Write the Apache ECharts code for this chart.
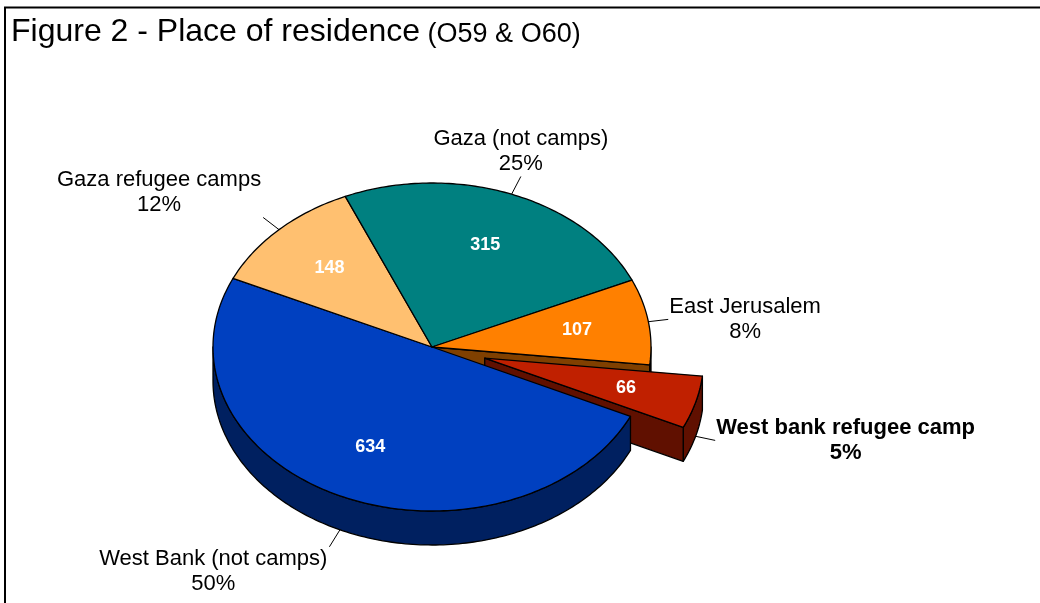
<!DOCTYPE html>
<html>
<head>
<meta charset="utf-8">
<script src="https://cdn.jsdelivr.net/npm/echarts@6/dist/echarts.min.js"></script>
<style>
  html, body { margin: 0; padding: 0; background: #ffffff; }
  #main { width: 1040px; height: 603px; }
</style>
</head>
<body>
<div id="main"></div>
<script>
// Place of residence (O59 & O60): respondents per category, in clockwise drawing order
const categories = ['West Bank (not camps)', 'Gaza refugee camps', 'Gaza (not camps)', 'East Jerusalem', 'West bank refugee camp'];
const counts = [634, 148, 315, 107, 66];
const explodedCategory = 'West bank refugee camp';
const topColors = ['#0040C0', '#FFC070', '#008080', '#FF8000', '#C02000'];
const sideColors = ['#002060', '#806038', '#004040', '#804000', '#601000'];
const titleMain = 'Figure 2 - Place of residence';
const titleSub = '(O59 & O60)';

const FONT = '"Liberation Sans", Arial, Helvetica, sans-serif';
// Layout of the tilted pie: ellipse centre and radii, thickness, start angle (deg clockwise from 12 o'clock)
const geo = { cx: 432, cy: 347, rx: 219, ry: 164, depth: 34, startAngle: 115, explode: 0.25, labelR: 0.67, leader: 20 };

const total = counts.reduce((a, b) => a + b, 0);
const slices = [];
let acc = geo.startAngle;
counts.forEach(v => {
  const span = v / total * 360;
  slices.push({ a: acc, b: acc + span, mid: acc + span / 2 });
  acc += span;
});

const rad = d => d * Math.PI / 180;
function rim(t, ox, oy, r, dz) {
  return [geo.cx + ox + r * geo.rx * Math.sin(rad(t)), geo.cy + oy - r * geo.ry * Math.cos(rad(t)) + dz];
}
function arc(a, b, ox, oy, dz) {
  const pts = [];
  const n = Math.max(2, Math.ceil(b - a));
  for (let k = 0; k <= n; k++) pts.push(rim(a + (b - a) * k / n, ox, oy, 1, dz));
  return pts;
}

const measureCtx = document.createElement('canvas').getContext('2d');
function textWidth(s, font) { measureCtx.font = font; return measureCtx.measureText(s).width; }

const OUTLINE = { stroke: '#000000', lineWidth: 1.3, lineJoin: 'round' };

function renderItem(params, api) {
  const i = params.dataIndex;
  const n = counts.length;
  const s = slices[i];
  const isExp = categories[i] === explodedCategory;
  const prevExp = categories[(i - 1 + n) % n] === explodedCategory;
  const nextExp = categories[(i + 1) % n] === explodedCategory;
  const e = isExp ? geo.explode : 0;
  const ox = e * geo.rx * Math.sin(rad(s.mid));
  const oy = -e * geo.ry * Math.cos(rad(s.mid));
  const apex = [geo.cx + ox, geo.cy + oy];
  const children = [];

  // walls are painted back to front, before every top face
  const facing = -Math.cos(rad(s.mid));
  const wallZ = 10 + Math.round((facing + 1) * 20);

  // curved outer wall on the half that faces the viewer
  [[90, 270], [450, 630]].forEach(([lo, hi]) => {
    const a = Math.max(s.a, lo), b = Math.min(s.b, hi);
    if (b > a) {
      const top = arc(a, b, ox, oy, 0);
      const bot = arc(a, b, ox, oy, geo.depth).reverse();
      children.push({ type: 'polygon', z2: wallZ, shape: { points: top.concat(bot) },
        style: Object.assign({ fill: sideColors[i] }, OUTLINE) });
    }
  });

  // radial cut faces, only visible next to the pulled-out slice
  function radialFace(t) {
    const r = rim(t, ox, oy, 1, 0);
    return { type: 'polygon', z2: wallZ + 1,
      shape: { points: [apex, r, [r[0], r[1] + geo.depth], [apex[0], apex[1] + geo.depth]] },
      style: Object.assign({ fill: sideColors[i] }, OUTLINE) };
  }
  if ((isExp || prevExp) && Math.sin(rad(s.a)) < 0) children.push(radialFace(s.a));
  if ((isExp || nextExp) && Math.sin(rad(s.b)) > 0) children.push(radialFace(s.b));

  // top face
  children.push({ type: 'polygon', z2: 100, shape: { points: [apex].concat(arc(s.a, s.b, ox, oy, 0)) },
    style: Object.assign({ fill: topColors[i] }, OUTLINE) });

  // value inside the slice
  const vp = rim(s.mid, ox, oy, geo.labelR, 0);
  children.push({ type: 'text', z2: 200, style: {
    text: String(api.value(0)), x: vp[0], y: vp[1], align: 'center', verticalAlign: 'middle',
    fill: '#ffffff', font: 'bold 18px ' + FONT } });

  // leader line and category label outside
  const front = Math.cos(rad(s.mid)) < 0;
  const p0 = rim(s.mid, ox, oy, 1, front ? geo.depth : 0);
  let dx = geo.rx * Math.sin(rad(s.mid)), dy = -geo.ry * Math.cos(rad(s.mid));
  const len = Math.hypot(dx, dy); dx /= len; dy /= len;
  const p1 = [p0[0] + geo.leader * dx, p0[1] + geo.leader * dy];
  children.push({ type: 'line', z2: 200, shape: { x1: p0[0], y1: p0[1], x2: p1[0], y2: p1[1] },
    style: { stroke: '#000000', lineWidth: 1 } });

  const pct = Math.round(api.value(0) / total * 100) + '%';
  const font = (isExp ? 'bold ' : '') + '22px ' + FONT;
  const w = Math.max(textWidth(categories[i], font), textWidth(pct, font));
  let lx = p1[0];
  if (dx > 0.5) lx = p1[0] + 1 + w / 2;
  else if (dx < -0.5) lx = p1[0] - 2 - w / 2;
  let va = 'middle';
  if (dy < -0.4) va = 'bottom';
  else if (dy > 0.4) va = 'top';
  children.push({ type: 'text', z2: 200, style: {
    text: categories[i] + '\n' + pct, x: lx, y: p1[1], align: 'center', verticalAlign: va,
    lineHeight: 25, fill: '#000000', font: font } });

  return { type: 'group', children: children };
}

const chart = echarts.init(document.getElementById('main'), null, { renderer: 'canvas' });
chart.setOption({
  animation: false,
  backgroundColor: '#ffffff',
  title: {
    left: 11, top: 16, padding: 0,
    text: '{a|' + titleMain + '}{b| ' + titleSub + '}',
    textStyle: {
      fontWeight: 'normal', fontSize: 32, fontFamily: FONT, color: '#000000',
      rich: {
        a: { fontSize: 32, fontFamily: FONT, color: '#000000', verticalAlign: 'bottom', lineHeight: 32 },
        b: { fontSize: 27, fontFamily: FONT, color: '#000000', verticalAlign: 'bottom', lineHeight: 32 }
      }
    }
  },
  graphic: [{
    type: 'rect', silent: true, z: -1,
    shape: { x: 5, y: 7.5, width: 1200, height: 800 },
    style: { fill: null, stroke: '#000000', lineWidth: 2 }
  }],
  series: [{
    type: 'custom',
    coordinateSystem: 'none',
    silent: true,
    renderItem: renderItem,
    data: categories.map((c, i) => ({ name: c, value: counts[i] }))
  }]
});
</script>
</body>
</html>
